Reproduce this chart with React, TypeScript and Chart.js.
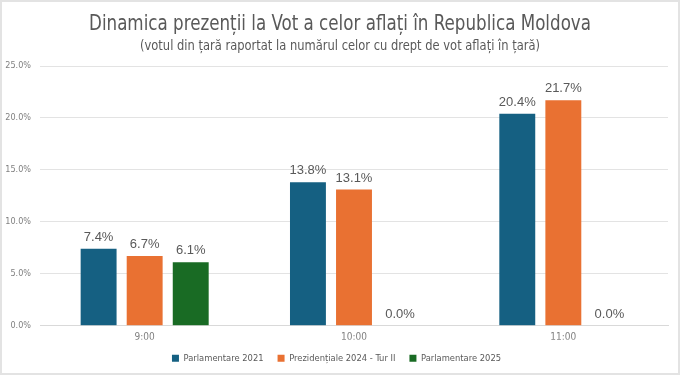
import React, { useEffect, useRef } from "react";
import { Chart, registerables } from "chart.js";

Chart.register(...registerables);

const categories = ["9:00", "10:00", "11:00"];
const seriesNames = ["Parlamentare 2021", "Prezidențiale 2024 - Tur II", "Parlamentare 2025"];
const parl2021 = [7.4, 13.8, 20.4];
const prez2024 = [6.7, 13.1, 21.7];
const parl2025 = [6.1, 0.0, 0.0];
const seriesColors = ["#156082", "#E97132", "#196B24"];
const titleText = "Dinamica prezenții la Vot a celor aflați în Republica Moldova";
const subtitleText = "(votul din țară raportat la numărul celor cu drept de vot aflați în țară)";

const NARROW = "'DejaVu Sans Condensed', 'Liberation Sans', sans-serif";

// Title and subtitle drawn in a condensed style (horizontally compressed)
const titles = {
  id: "condensedTitles",
  afterDraw(chart: any) {
    const ctx = chart.ctx;
    const cx = chart.width / 2;
    const draw = (text: string, size: number, baseline: number, targetWidth: number) => {
      ctx.save();
      ctx.font = `${size}px 'DejaVu Sans Condensed', 'DejaVu Sans', sans-serif`;
      ctx.fillStyle = "#595959";
      ctx.textAlign = "center";
      ctx.textBaseline = "alphabetic";
      const w = ctx.measureText(text).width;
      const s = Math.min(1, targetWidth / w);
      ctx.translate(cx, baseline);
      ctx.scale(s, 1);
      ctx.fillText(text, 0, 0);
      ctx.restore();
    };
    draw(titleText, 22, 28, 502);
    draw(subtitleText, 14.5, 48, 400);
  },
};

const dataLabels = {
  id: "dataLabels",
  afterDatasetsDraw(chart: any) {
    const ctx = chart.ctx;
    ctx.save();
    ctx.font = "13px 'Liberation Sans', Arial, sans-serif";
    ctx.fillStyle = "#595959";
    ctx.textAlign = "center";
    ctx.textBaseline = "bottom";
    chart.data.datasets.forEach((ds: any, i: number) => {
      const meta = chart.getDatasetMeta(i);
      meta.data.forEach((bar: any, j: number) => {
        const v = ds.data[j];
        ctx.fillText(v.toFixed(1) + "%", bar.x, bar.y - 5);
      });
    });
    ctx.restore();
  },
};

export default function App() {
  const ref = useRef<HTMLCanvasElement>(null);
  useEffect(() => {
    if (!ref.current) return;
    const chart = new Chart(ref.current, {
      type: "bar",
      data: {
        labels: categories,
        datasets: [parl2021, prez2024, parl2025].map((d, i) => ({
          label: seriesNames[i],
          data: d,
          backgroundColor: seriesColors[i],
          borderWidth: 0,
          barPercentage: 0.78,
          categoryPercentage: 0.66,
        })),
      },
      options: {
        animation: false,
        responsive: false,
        layout: { padding: { left: 3, right: 10, top: 64, bottom: 0 } },
        scales: {
          x: {
            grid: { display: false, drawTicks: false },
            border: { color: "#d9d9d9" },
            ticks: { color: "#7f7f7f", font: { size: 10, family: NARROW }, padding: 6 },
            afterFit: (scale: any) => {
              scale.height = 14;
            },
          },
          y: {
            min: 0,
            max: 25,
            ticks: {
              stepSize: 5,
              color: "#808080",
              font: { size: 9, family: NARROW },
              padding: 9,
              callback: (v: any) => Number(v).toFixed(1) + "%",
            },
            grid: { color: "#e3e3e3", drawTicks: false },
            border: { display: false },
            afterFit: (scale: any) => {
              scale.width = 35;
            },
          },
        },
        plugins: {
          title: { display: false },
          subtitle: { display: false },
          legend: {
            position: "bottom",
            labels: {
              boxWidth: 7,
              boxHeight: 7,
              color: "#595959",
              font: { size: 9.3, family: NARROW },
              padding: 14,
            },
          },
          tooltip: { enabled: false },
        },
      },
      plugins: [dataLabels, titles],
    });
    return () => chart.destroy();
  }, []);
  return (
    <div
      style={{
        position: "fixed",
        left: 0,
        top: 0,
        width: 680,
        height: 375,
        background: "#fff",
        boxSizing: "border-box",
        border: "2px solid #e3e3e3",
      }}
    >
      <canvas ref={ref} width={676} height={371} style={{ display: "block" }} />
    </div>
  );
}
